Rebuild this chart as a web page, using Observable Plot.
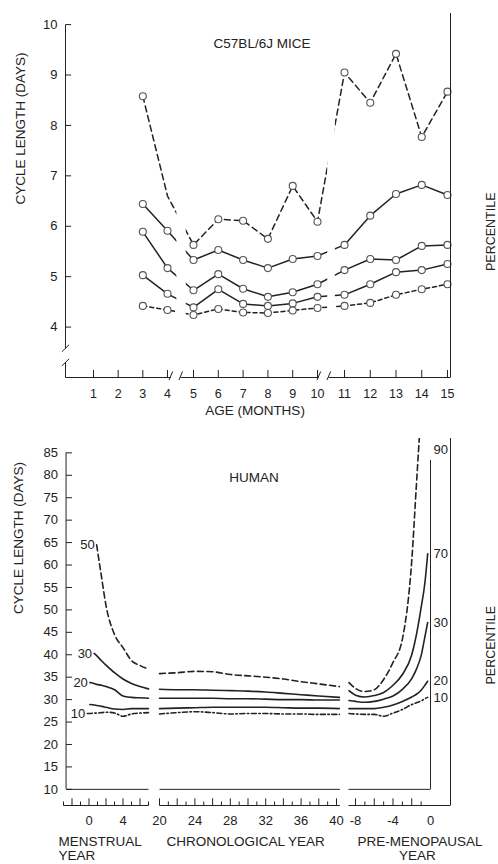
<!DOCTYPE html>
<html><head><meta charset="utf-8">
<script src="https://cdn.jsdelivr.net/npm/d3@7"></script>
<script src="https://cdn.jsdelivr.net/npm/@observablehq/plot@0.6"></script>
<style>
body{margin:0;background:#fff;}
#chart svg{display:block;}
</style></head><body><div id="chart"></div>
<script>
// ===================== DATA: C57BL/6J mice =====================
const months = [3,4,5,6,7,8,9,10,11,12,13,14,15];
const mouse90 = [8.58,6.60,5.63,6.14,6.11,5.75,6.80,6.09,9.05,8.45,9.42,7.77,8.67];
const mouse70 = [6.44,5.91,5.33,5.53,5.33,5.17,5.35,5.41,5.63,6.21,6.64,6.82,6.62];
const mouse50 = [5.89,5.17,4.73,5.05,4.76,4.60,4.69,4.85,5.13,5.35,5.33,5.61,5.63];
const mouse30 = [5.03,4.66,4.39,4.75,4.46,4.42,4.47,4.60,4.64,4.85,5.09,5.13,5.25];
const mouse10 = [4.42,4.34,4.24,4.36,4.29,4.28,4.33,4.38,4.42,4.48,4.64,4.75,4.85];
const mouseUnmarked = [["p90", 4]];          // point drawn without a circle
const mouseXTicks = [1,2,3,4,5,6,7,8,9,10,11,12,13,14,15];
const mouseYTicks = [4,5,6,7,8,9,10];
const mouseXBreaks = [[4.12,4.5],[10.04,10.41]]; // axis breaks (months)
const mouseLineGaps = [[4.36,4.72],[10.38,10.66]];
const mouseYBreak = [3.3,3.58];

// ===================== DATA: human =====================
const menstrualYears = [-0.2,0.1,0.6,0.9,1.5,2,3,4,5,6,7];
const chronoYears    = [20,22,24,26,28,30,32,34,36,38,40.3];
const premenoYears   = [-8.7,-8,-7,-6,-5,-4,-3,-2,-1.5,-1,-0.6,-0.3];

const hTopDash_m = [null,null,null,64.5,57,51,44.5,41.6,38.7,37.6,36.8];
const hTopDash_c = [35.8,36.0,36.3,36.2,35.6,35.3,35.0,34.6,34.0,33.5,32.9];
const hTopDash_p = [33.8,32.5,31.8,32.2,34.5,38.3,43.5,61,78,95,null,null];

const hSolid1_m = [null,null,40.3,39.8,38.6,37.7,36.0,34.6,33.6,32.9,32.4];
const hSolid1_c = [32.3,32.2,32.2,32.1,32.0,31.9,31.7,31.4,31.1,30.8,30.5];
const hSolid1_p = [32.0,31.0,30.6,30.9,31.6,33.2,35.6,40.0,44.5,50.5,56.0,62.5];

const hSolid2_m = [null,33.8,33.6,33.4,33.2,32.9,32.2,30.8,30.5,30.4,30.3];
const hSolid2_c = [30.3,30.3,30.3,30.3,30.2,30.2,30.1,30.0,30.0,29.9,29.9];
const hSolid2_p = [29.8,29.6,29.4,29.6,30.1,30.8,32.3,34.7,36.8,39.8,44.0,47.2];

const hSolid3_m = [null,28.9,28.8,28.7,28.5,28.3,27.9,27.8,28.0,28.0,28.0];
const hSolid3_c = [28.0,28.1,28.2,28.3,28.3,28.3,28.3,28.2,28.1,28.1,28.0];
const hSolid3_p = [28.0,28.0,28.0,28.0,28.3,28.8,29.6,30.6,31.2,32.1,33.2,34.1];

const hBotDash_m = [26.9,26.9,27.0,27.0,27.1,27.2,27.0,26.3,26.8,27.0,27.1];
const hBotDash_c = [26.8,27.1,27.3,27.1,26.8,26.9,26.9,26.8,26.8,26.7,26.7];
const hBotDash_p = [26.9,26.8,26.7,26.7,26.3,27.0,27.8,28.9,29.3,29.7,30.2,30.5];

const humanLeftLabels  = ["50","30","20",null,"10"];
const humanRightLabels = ["90","70","30","20","10"];
const humanYTicks = [10,15,20,25,30,35,40,45,50,55,60,65,70,75,80,85];
const menstrualTicks = [-3,-2,-1,0,1,2,3,4,5,6,7];
const menstrualLabels = [0,4];
const chronoTicks = d3.range(20,41);
const chronoLabels = [20,24,28,32,36,40];
const premenoTicks = [-8,-7,-6,-5,-4,-3,-2,-1];
const premenoLabels = [-8,-4,0];

// ===================== helpers =====================
const FONT = "'Liberation Sans', Arial, Helvetica, sans-serif";
const INK = "#222";

// mouse rows
const mouseSeriesVals = {p90: mouse90, p70: mouse70, p50: mouse50, p30: mouse30, p10: mouse10};
const mouseRows = [];
for (const [k, vals] of Object.entries(mouseSeriesVals))
  months.forEach((m, i) => mouseRows.push({series: k, month: m, value: vals[i]}));
const mouseDash = {p90: "6,4", p70: null, p50: null, p30: null, p10: "4,3"};
const isUnmarked = d => mouseUnmarked.some(([s, m]) => s === d.series && m === d.month);

const xLo = 0, xHi = 15.1, yLo = 3, yHi = 10.22;
function pieces(lo, hi, breaks) {
  const out = []; let s = lo;
  for (const [a, b] of breaks) { out.push([s, a]); s = b; }
  out.push([s, hi]); return out;
}
const mouseXPieces = pieces(xLo, xHi, mouseXBreaks);
const mouseYPieces = pieces(yLo, 10, [mouseYBreak]);

const topMarks = [];
for (const k of Object.keys(mouseSeriesVals)) {
  topMarks.push(Plot.line(mouseRows.filter(d => d.series === k), {
    x: "month", y: "value", stroke: INK, strokeWidth: 1.5,
    strokeDasharray: mouseDash[k] || undefined
  }));
}
// gaps in lines at the axis breaks
topMarks.push(Plot.rect(mouseLineGaps, {x1: d => d[0], x2: d => d[1], y1: () => 3.62, y2: () => yHi, fill: "white"}));
topMarks.push(Plot.dot(mouseRows.filter(d => !isUnmarked(d)), {
  x: "month", y: "value", r: 3.5, fill: "white", stroke: "#555", strokeWidth: 1.1
}));
// axes
topMarks.push(Plot.link(mouseXPieces, {x1: d => d[0], x2: d => d[1], y1: () => yLo, y2: () => yLo, stroke: INK}));
topMarks.push(Plot.link(mouseYPieces, {x1: () => 0, x2: () => 0, y1: d => d[0], y2: d => d[1], stroke: INK}));
topMarks.push(Plot.link(mouseXBreaks.flat(), {x1: d => d - 0.06, x2: d => d + 0.08, y1: () => yLo - 0.05, y2: () => yLo + 0.12, stroke: INK}));
topMarks.push(Plot.link(mouseYBreak, {x1: () => -0.13, x2: () => 0.13, y1: d => d - 0.07, y2: d => d + 0.07, stroke: INK}));
topMarks.push(Plot.ruleX([xHi], {y1: yLo, y2: yHi, stroke: INK}));
topMarks.push(Plot.link(mouseXTicks, {x1: d => d, x2: d => d, y1: () => yLo, y2: () => yLo + 0.15, stroke: INK}));
topMarks.push(Plot.link(mouseYTicks, {x1: () => 0, x2: () => 0.2, y1: d => d, y2: d => d, stroke: INK}));
topMarks.push(Plot.text(mouseXTicks, {x: d => d, y: () => yLo, text: d => String(d), dy: 16, fontSize: 12.5, fill: INK}));
topMarks.push(Plot.text(mouseYTicks, {x: () => 0, y: d => d, text: d => String(d), dx: -8, textAnchor: "end", fontSize: 13, fill: INK}));
topMarks.push(Plot.text(["C57BL/6J MICE"], {frameAnchor: "top", dx: 4, dy: 25, fontSize: 13.5, fill: INK}));
topMarks.push(Plot.text(["AGE (MONTHS)"], {frameAnchor: "bottom", dx: -3, dy: 37, fontSize: 13.5, fill: INK}));
topMarks.push(Plot.text(["CYCLE LENGTH (DAYS)"], {frameAnchor: "left", dx: -45, dy: 9, rotate: -90, fontSize: 13.5, fill: INK}));
topMarks.push(Plot.text(["PERCENTILE"], {frameAnchor: "right", dx: 40, dy: -3, rotate: -90, fontSize: 12.5, fill: INK}));

const topPlot = Plot.plot({
  width: 498, height: 430,
  marginLeft: 65, marginRight: 48, marginTop: 13, marginBottom: 53,
  style: {fontFamily: FONT, background: "white"},
  x: {type: "linear", domain: [0,1,4,5,10,11,15,15.1], range: [65,93,167,193,317,344,447,450], axis: null},
  y: {type: "linear", domain: [yLo, yHi], range: [377, 13], axis: null},
  marks: topMarks
});

// ---------------- human ----------------
const segOffset = {menstrual: 0, chrono: 0, premeno: 50};
const segYears = {menstrual: menstrualYears, chrono: chronoYears, premeno: premenoYears};
const humanSeries = [
  {key: "top", m: hTopDash_m, c: hTopDash_c, p: hTopDash_p},
  {key: "s1",  m: hSolid1_m,  c: hSolid1_c,  p: hSolid1_p},
  {key: "s2",  m: hSolid2_m,  c: hSolid2_c,  p: hSolid2_p},
  {key: "s3",  m: hSolid3_m,  c: hSolid3_c,  p: hSolid3_p},
  {key: "bot", m: hBotDash_m, c: hBotDash_c, p: hBotDash_p}
];
const humanDash = {top: "6,3.5", s1: null, s2: null, s3: null, bot: "5,2.5,1.5,2.5"};
const humanRows = [];
for (const s of humanSeries) {
  for (const [seg, arr] of [["menstrual", s.m], ["chrono", s.c], ["premeno", s.p]]) {
    segYears[seg].forEach((yr, i) => {
      if (arr[i] != null) humanRows.push({series: s.key, seg, u: yr + segOffset[seg], v: arr[i]});
    });
  }
}
const bYLo = 6.4, bYHi = 88.2, yAxisU = -2.7, menoU = 50, rightU = 52;
const hXPieces = [[-3, 7], [20, 40.35], [41.25, rightU]];
const hBasePieces = [[yAxisU, 7], [20, 40.35], [41.25, menoU]];

const botMarks = [];
for (const s of humanSeries) {
  botMarks.push(Plot.line(humanRows.filter(d => d.series === s.key), {
    x: "u", y: "v", z: "seg", curve: "monotone-x", stroke: INK, strokeWidth: 1.6,
    strokeDasharray: humanDash[s.key] || undefined, clip: true
  }));
}
// frame lines
botMarks.push(Plot.link(hBasePieces, {x1: d => d[0], x2: d => d[1], y1: () => 10, y2: () => 10, stroke: INK}));
botMarks.push(Plot.link(hXPieces, {x1: d => d[0], x2: d => d[1], y1: () => bYLo, y2: () => bYLo, stroke: INK}));
botMarks.push(Plot.ruleX([yAxisU], {y1: 10, y2: 85, stroke: INK}));
botMarks.push(Plot.ruleX([rightU], {y1: bYLo, y2: bYHi, stroke: INK}));
botMarks.push(Plot.ruleX([menoU], {y1: 10, y2: 83.3, stroke: INK}));
botMarks.push(Plot.link(humanYTicks, {x1: () => yAxisU, x2: () => yAxisU + 0.7, y1: d => d, y2: d => d, stroke: INK}));
const hTickRows = [
  ...menstrualTicks.map(t => ({u: t, yr: t})),
  ...chronoTicks.map(t => ({u: t, yr: t})),
  ...premenoTicks.map(t => ({u: t + segOffset.premeno, yr: t}))
];
botMarks.push(Plot.link(hTickRows, {x1: "u", x2: "u", y1: () => bYLo, y2: d => bYLo + (d.yr % 2 === 0 ? 1.6 : 0.9), stroke: INK}));
const hLabelRows = [
  ...menstrualLabels.map(t => ({u: t, t})),
  ...chronoLabels.map(t => ({u: t, t})),
  ...premenoLabels.map(t => ({u: t + segOffset.premeno, t}))
];
botMarks.push(Plot.text(hLabelRows, {x: "u", y: () => bYLo, text: d => String(d.t), dy: 15, fontSize: 13, fill: INK}));
botMarks.push(Plot.text(humanYTicks, {x: () => yAxisU, y: d => d, text: d => String(d), dx: -8, textAnchor: "end", fontSize: 13, fill: INK}));
// line labels
const leftLab = humanSeries.map((s, i) => {
  const first = humanRows.find(d => d.series === s.key && d.seg === "menstrual");
  return {t: humanLeftLabels[i], u: first.u, v: first.v};
}).filter(d => d.t);
botMarks.push(Plot.text(leftLab, {x: "u", y: "v", text: "t", dx: -2, textAnchor: "end", fontSize: 13, fill: INK}));
const rightLab = humanSeries.map((s, i) => {
  const rows = humanRows.filter(d => d.series === s.key && d.seg === "premeno");
  return {t: humanRightLabels[i], v: Math.min(rows[rows.length - 1].v, 85.7)};
});
botMarks.push(Plot.text(rightLab, {x: () => menoU, y: "v", text: "t", dx: 3, textAnchor: "start", fontSize: 13, fill: INK}));
// titles
botMarks.push(Plot.text(["HUMAN"], {frameAnchor: "top", dx: -3, dy: 34, fontSize: 13.5, fill: INK}));
botMarks.push(Plot.text(["CYCLE LENGTH (DAYS)"], {frameAnchor: "left", dx: -45, dy: -8, rotate: -90, fontSize: 13.5, fill: INK}));
botMarks.push(Plot.text(["PERCENTILE"], {frameAnchor: "right", dx: 40, dy: -16, rotate: -90, fontSize: 12.5, fill: INK}));
botMarks.push(Plot.text(["MENSTRUAL", "YEAR"], {x: () => -3, dx: -5, textAnchor: "start", fontSize: 13.5, fill: INK, text: d => d,
  y: (d, i) => bYLo - (i === 0 ? 8.0 : 11.2)}));
botMarks.push(Plot.text(["CHRONOLOGICAL YEAR"], {x: () => 20, y: () => bYLo - 8.0, dx: 7, textAnchor: "start", fontSize: 13.5, fill: INK}));
botMarks.push(Plot.text(["PRE-MENOPAUSAL"], {x: () => 42, y: () => bYLo - 8.0, dx: 2, textAnchor: "start", fontSize: 13.5, fill: INK}));
botMarks.push(Plot.text(["YEAR"], {x: () => 46, y: () => bYLo - 11.2, dx: 6, textAnchor: "start", fontSize: 13.5, fill: INK}));

const botPlot = Plot.plot({
  width: 498, height: 434,
  marginLeft: 63, marginRight: 48, marginTop: 8, marginBottom: 59,
  style: {fontFamily: FONT, background: "white"},
  x: {type: "linear", domain: [-3,7,20,40,41.25,50,52], range: [63,148,159,336,348,430,450], axis: null},
  y: {type: "linear", domain: [bYLo, bYHi], range: [375, 8], axis: null},
  marks: botMarks
});

const root = document.getElementById("chart");
root.appendChild(topPlot);
root.appendChild(botPlot);
</script></body></html>
